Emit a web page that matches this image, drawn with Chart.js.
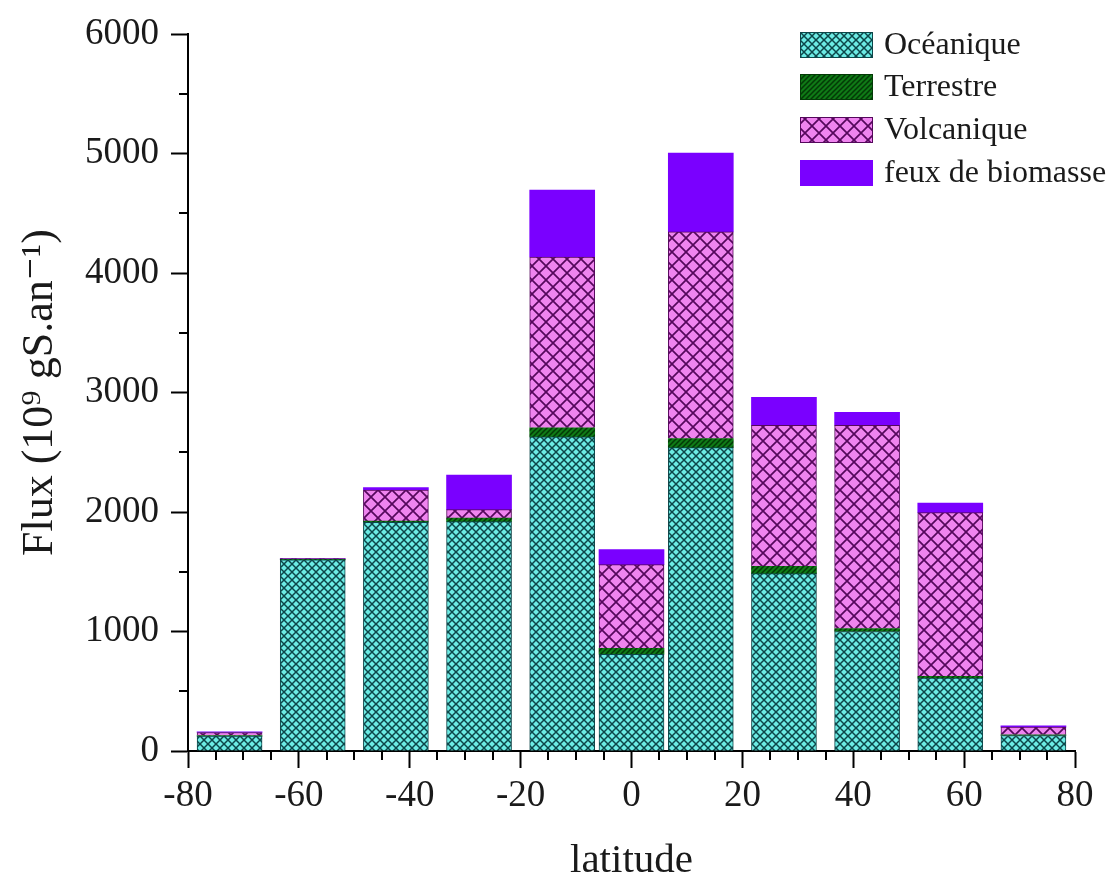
<!DOCTYPE html>
<html>
<head>
<meta charset="utf-8">
<script src="https://cdn.jsdelivr.net/npm/chart.js@4/dist/chart.umd.min.js"></script>
<style>
  html, body { margin: 0; padding: 0; background: #fff; }
  canvas { display: block; }
</style>
</head>
<body>
<canvas id="chart" width="1115" height="884"></canvas>
<script>
// --- data ---
const latitudes = [-72.5, -57.5, -42.5, -27.5, -12.5, 0, 12.5, 27.5, 42.5, 57.5, 72.5];
const oceanique = [125, 1600, 1915, 1920, 2630, 810, 2540, 1485, 1000, 610, 130];
const terrestre = [5, 5, 10, 30, 75, 50, 75, 60, 25, 15, 5];
const volcanique = [25, 5, 260, 70, 1430, 700, 1730, 1180, 1700, 1370, 65];
const biomasse = [5, 0, 20, 290, 560, 125, 660, 235, 110, 80, 10];
const seriesNames = ["Océanique", "Terrestre", "Volcanique", "feux de biomasse"];
const xTicks = [-80, -60, -40, -20, 0, 20, 40, 60, 80];
const yTicks = [0, 1000, 2000, 3000, 4000, 5000, 6000];

const FONT = "'Liberation Serif', 'DejaVu Serif', serif";

// ---------- hatch patterns ----------
function crossHatch(bg, line, size, lw) {
  const c = document.createElement("canvas");
  c.width = size; c.height = size;
  const g = c.getContext("2d");
  g.fillStyle = bg;
  g.fillRect(0, 0, size, size);
  g.strokeStyle = line;
  g.lineWidth = lw;
  g.beginPath();
  g.moveTo(0, 0); g.lineTo(size, size);
  g.moveTo(0, size); g.lineTo(size, 0);
  g.stroke();
  return g.createPattern(c, "repeat");
}

function diagHatch(bg, line, size, lw) {
  const c = document.createElement("canvas");
  c.width = size; c.height = size;
  const g = c.getContext("2d");
  g.fillStyle = bg;
  g.fillRect(0, 0, size, size);
  g.strokeStyle = line;
  g.lineWidth = lw;
  g.beginPath();
  g.moveTo(-1, 1); g.lineTo(1, -1);
  g.moveTo(0, size); g.lineTo(size, 0);
  g.moveTo(size - 1, size + 1); g.lineTo(size + 1, size - 1);
  g.stroke();
  return g.createPattern(c, "repeat");
}

const cyanPat = crossHatch("#6cebe4", "#0c4649", 8, 1.5);
const greenPat = diagHatch("#0f7a16", "#033a06", 5, 1.5);
const pinkPat = crossHatch("#ef84ef", "#55085c", 14, 1.7);
const purple = "#7a00ff";

function pts(vals) {
  return latitudes.map((x, i) => ({ x, y: vals[i] }));
}

// ---------- minor ticks + legend ----------
const extras = {
  id: "extras",
  afterDraw(chart) {
    const ctx = chart.ctx;
    const xs = chart.scales.x, ys = chart.scales.y;
    const ca = chart.chartArea;
    ctx.save();
    ctx.strokeStyle = "#000";
    ctx.lineWidth = 2;
    ctx.beginPath();
    for (let v = -75; v < 80; v += 5) {
      if (v % 20 === 0) continue;
      const px = Math.round(xs.getPixelForValue(v));
      ctx.moveTo(px, ca.bottom);
      ctx.lineTo(px, ca.bottom + 9);
    }
    for (let v = 500; v < 6000; v += 1000) {
      const py = Math.round(ys.getPixelForValue(v));
      ctx.moveTo(ca.left, py);
      ctx.lineTo(ca.left - 9, py);
    }
    ctx.stroke();

    // legend
    const fills = [cyanPat, greenPat, pinkPat, purple];
    const edges = ["#0c4649", "#033a06", "#55085c", purple];
    const tops = [32, 74, 117, 160];
    ctx.font = "32px " + FONT;
    ctx.textBaseline = "middle";
    seriesNames.forEach((name, i) => {
      ctx.fillStyle = fills[i];
      ctx.fillRect(800, tops[i], 73, 26);
      ctx.strokeStyle = edges[i];
      ctx.lineWidth = 1;
      ctx.strokeRect(800.5, tops[i] + 0.5, 72, 25);
      ctx.fillStyle = "#1a1a1a";
      ctx.fillText(name, 884, tops[i] + 14);
    });
    ctx.restore();
  }
};

new Chart(document.getElementById("chart"), {
  type: "bar",
  data: {
    datasets: [
      { label: seriesNames[0], data: pts(oceanique), backgroundColor: cyanPat, borderColor: "#0c4649", borderWidth: 1 },
      { label: seriesNames[1], data: pts(terrestre), backgroundColor: greenPat, borderColor: "#033a06", borderWidth: 0 },
      { label: seriesNames[2], data: pts(volcanique), backgroundColor: pinkPat, borderColor: "#55085c", borderWidth: 1 },
      { label: seriesNames[3], data: pts(biomasse), backgroundColor: purple, borderWidth: 0 }
    ]
  },
  options: {
    responsive: false,
    animation: false,
    barThickness: 65,
    layout: { padding: { top: 33, right: 40, left: 0, bottom: 0 } },
    plugins: { legend: { display: false }, tooltip: { enabled: false } },
    scales: {
      x: {
        type: "linear",
        stacked: true,
        min: -80, max: 80,
        offset: false,
        afterBuildTicks: (s) => { s.ticks = xTicks.map(v => ({ value: v })); },
        afterFit: (s) => { s.height = 133; },
        grid: { offset: false, drawOnChartArea: false, drawTicks: true, tickLength: 17, tickWidth: 2, tickColor: "#000" },
        border: { display: true, color: "#000", width: 2 },
        ticks: { color: "#1a1a1a", font: { family: FONT, size: 37 }, padding: 6, maxRotation: 0, autoSkip: false,
                 callback: (v) => String(v) },
        title: { display: true, text: "latitude", color: "#1a1a1a", font: { family: FONT, size: 41, lineHeight: 1 }, padding: { top: 0, bottom: 2 } }
      },
      y: {
        stacked: true,
        min: 0, max: 6000,
        afterBuildTicks: (s) => { s.ticks = yTicks.map(v => ({ value: v })); },
        afterFit: (s) => { s.width = 188; },
        grid: { drawOnChartArea: false, drawTicks: true, tickLength: 17, tickWidth: 2, tickColor: "#000" },
        border: { display: true, color: "#000", width: 2 },
        ticks: { color: "#1a1a1a", font: { family: FONT, size: 37 }, padding: 12, callback: (v) => String(v) },
        title: { display: true, text: "Flux (10⁹ gS.an⁻¹)", color: "#1a1a1a", font: { family: FONT, size: 44, lineHeight: 1 }, padding: { top: 18, bottom: 0 } }
      }
    }
  },
  plugins: [extras]
});
</script>
</body>
</html>
